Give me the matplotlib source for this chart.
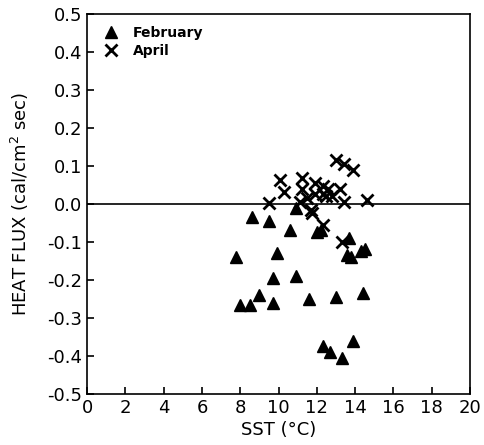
import matplotlib
matplotlib.use("Agg")
import matplotlib.pyplot as plt

# February data (SST degC, heat flux cal/cm2 sec)
feb_sst = [7.8, 8.0, 8.5, 8.6, 9.0, 9.5, 9.7, 9.7, 9.9, 10.6, 10.9, 10.9, 11.6,
           12.0, 12.2, 12.3, 12.7, 13.0, 13.3, 13.6, 13.7, 13.8, 13.9, 14.3, 14.5, 14.4]
feb_flux = [-0.14, -0.265, -0.265, -0.035, -0.24, -0.045, -0.195, -0.26, -0.13, -0.07,
            -0.01, -0.19, -0.25, -0.075, -0.07, -0.375, -0.39, -0.245, -0.405, -0.135,
            -0.09, -0.14, -0.36, -0.125, -0.12, -0.235]

# April data
apr_sst = [9.5, 10.1, 10.3, 11.2, 11.2, 11.9, 12.3, 12.6, 13.2, 13.4, 14.6, 13.0, 13.4,
           13.9, 11.7, 11.5, 11.9, 12.3, 11.1, 12.5, 12.8, 11.75, 12.3, 13.3]
apr_flux = [0.003, 0.063, 0.03, 0.068, 0.04, 0.055, 0.047, 0.04, 0.04, 0.005, 0.01, 0.115,
            0.105, 0.09, -0.015, 0.015, 0.025, 0.025, 0.005, 0.02, 0.02, -0.025, -0.055, -0.1]

xticks = list(range(0, 21, 2))
yticks = [-0.5, -0.4, -0.3, -0.2, -0.1, 0.0, 0.1, 0.2, 0.3, 0.4, 0.5]

plt.rcParams['font.family'] = ['DejaVu Sans']
fig = plt.figure(figsize=(4.84, 4.45), dpi=100)
ax = fig.add_axes([0.18, 0.115, 0.791, 0.854])

ax.axhline(0, color='black', lw=1.2, zorder=1)
ax.plot(feb_sst, feb_flux, linestyle='none', marker='^', ms=8.5, color='black',
        label='February', zorder=3)
ax.plot(apr_sst, apr_flux, linestyle='none', marker='x', ms=9, mew=2, color='black',
        label='April', zorder=3)

ax.set_xlim(0, 20)
ax.set_ylim(-0.5, 0.5)
ax.set_xticks(xticks)
ax.set_xticklabels([str(t) for t in xticks])
ax.set_yticks(yticks)
ax.set_yticklabels(['%.1f' % t for t in yticks])
ax.tick_params(direction='in', length=5, width=1.2, labelsize=13)
for s in ax.spines.values():
    s.set_linewidth(1.2)

ax.set_xlabel('SST (°C)', fontsize=13, labelpad=3)
ax.set_ylabel('HEAT FLUX (cal/cm$^2$ sec)', fontsize=13, labelpad=12)

ax.legend(loc='upper left', frameon=False, handletextpad=0.8, handlelength=1.6,
          borderaxespad=0.5, labelspacing=0.25, prop={'weight': 'bold', 'size': 10})

fig.savefig('out.png', dpi=100)
